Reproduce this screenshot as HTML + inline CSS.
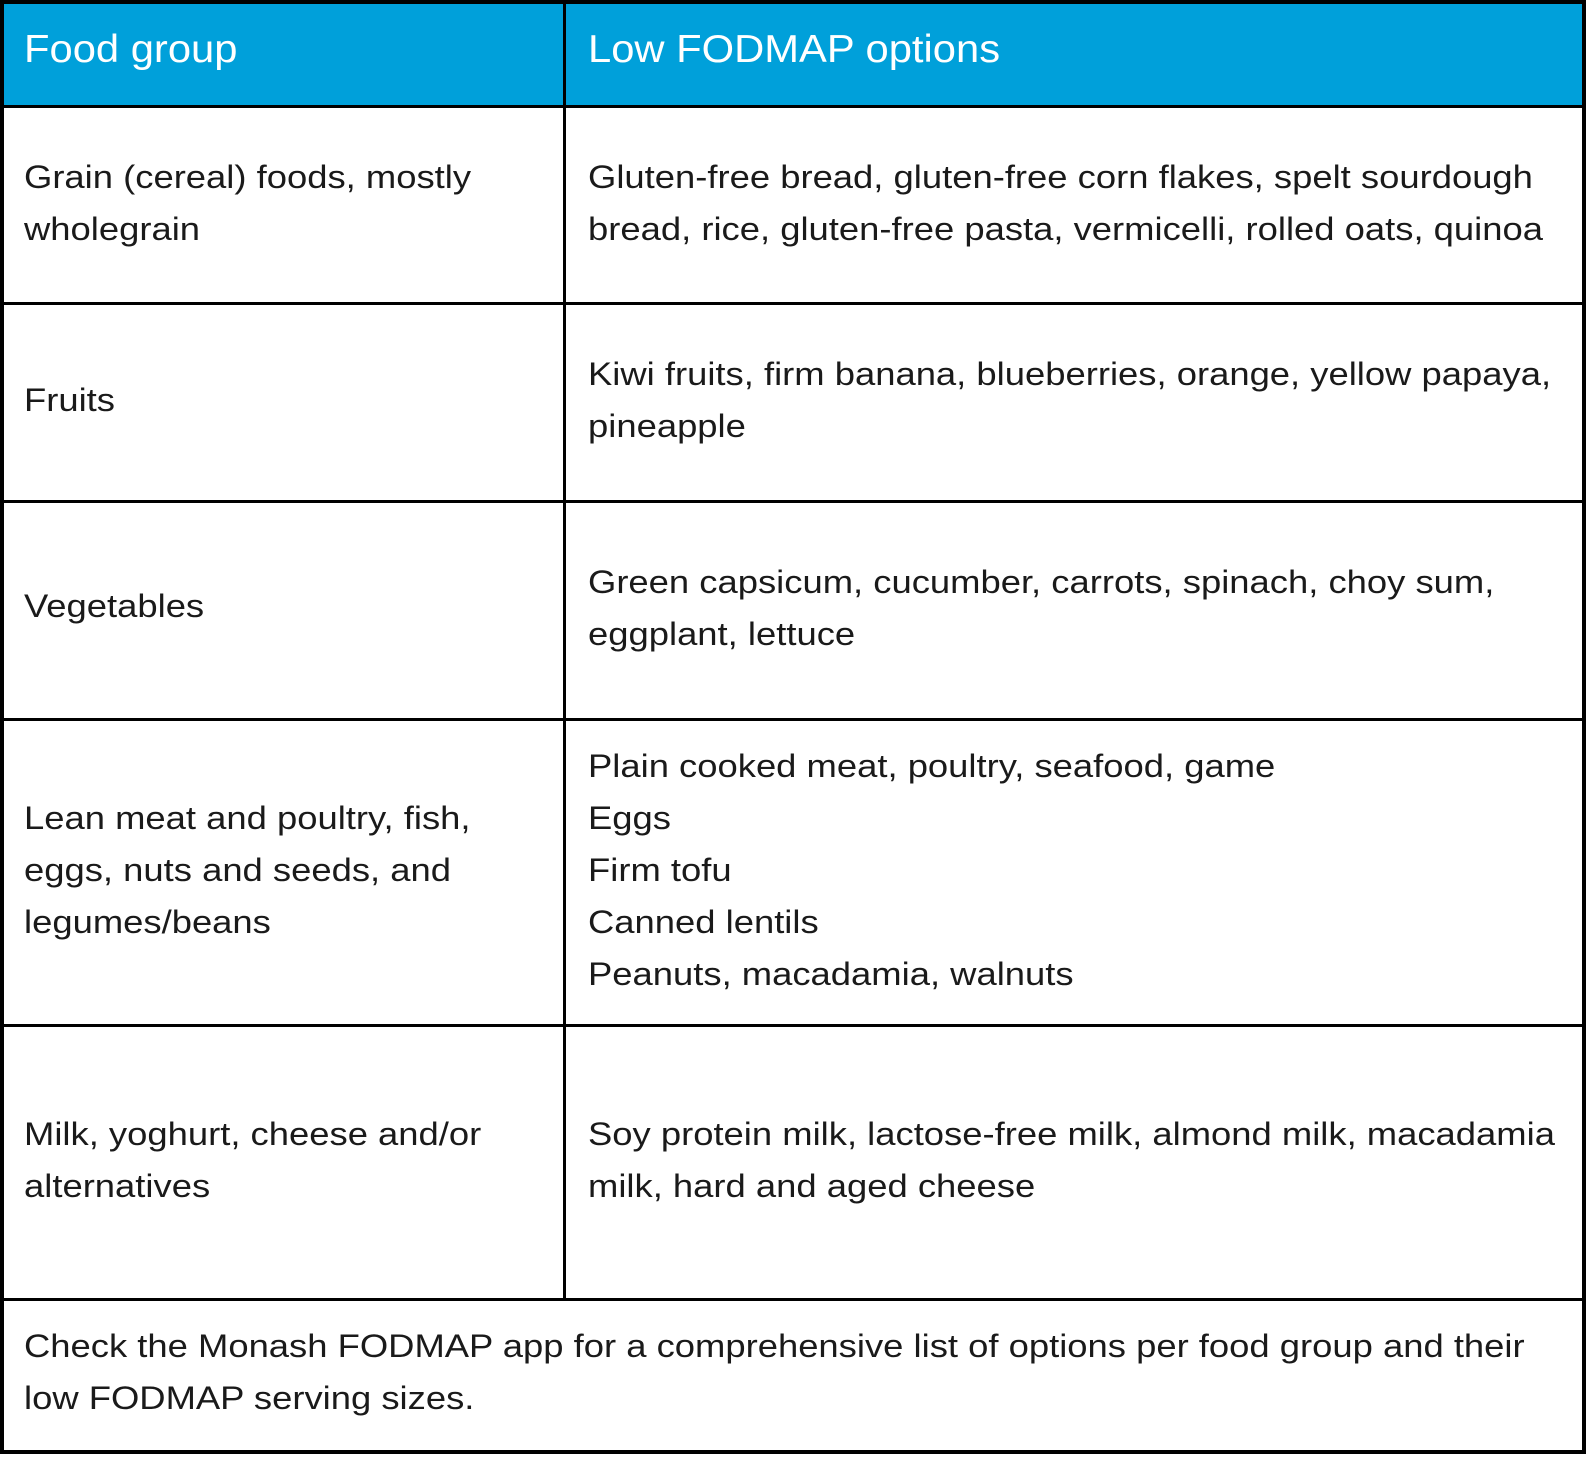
<!DOCTYPE html>
<html><head><style>
body{margin:0;width:1586px;height:1458px;background:#fff;position:relative;overflow:hidden;font-family:"Liberation Sans",sans-serif;color:#1a1a1a}
.h{position:absolute;background:#000}
.t{position:absolute;font-size:32.5px;line-height:52px;white-space:nowrap;transform:scaleX(1.12);transform-origin:0 0}
.hd{position:absolute;font-size:39px;line-height:39px;color:#fff;white-space:nowrap;transform:scaleX(1.07);transform-origin:0 0}
</style></head><body>
<div style="position:absolute;left:0;top:0;width:1586px;height:107px;background:#00a0da"></div>
<div class="h" style="left:0;top:0;width:1586px;height:4px"></div>
<div class="h" style="left:0;top:105px;width:1586px;height:3px"></div>
<div class="h" style="left:0;top:302px;width:1586px;height:3px"></div>
<div class="h" style="left:0;top:500px;width:1586px;height:3px"></div>
<div class="h" style="left:0;top:718px;width:1586px;height:3px"></div>
<div class="h" style="left:0;top:1024px;width:1586px;height:3px"></div>
<div class="h" style="left:0;top:1298px;width:1586px;height:3px"></div>
<div class="h" style="left:0;top:1450px;width:1586px;height:4px"></div>
<div class="h" style="left:0;top:0;width:4px;height:1454px"></div>
<div class="h" style="left:1582px;top:0;width:4px;height:1454px"></div>
<div class="h" style="left:563px;top:0;width:3px;height:1300px"></div>
<div class="hd" style="left:24px;top:30px">Food group</div>
<div class="hd" style="left:588px;top:30px">Low FODMAP options</div>
<div class="t" style="left:24px;top:151px">Grain (cereal) foods, mostly<br>wholegrain</div>
<div class="t" style="left:588px;top:151px">Gluten-free bread, gluten-free corn flakes, spelt sourdough<br>bread, rice, gluten-free pasta, vermicelli, rolled oats, quinoa</div>
<div class="t" style="left:24px;top:374px">Fruits</div>
<div class="t" style="left:588px;top:348px">Kiwi fruits, firm banana, blueberries, orange, yellow papaya,<br>pineapple</div>
<div class="t" style="left:24px;top:580px">Vegetables</div>
<div class="t" style="left:588px;top:556px">Green capsicum, cucumber, carrots, spinach, choy sum,<br>eggplant, lettuce</div>
<div class="t" style="left:24px;top:792px">Lean meat and poultry, fish,<br>eggs, nuts and seeds, and<br>legumes/beans</div>
<div class="t" style="left:588px;top:740px">Plain cooked meat, poultry, seafood, game<br>Eggs<br>Firm tofu<br>Canned lentils<br>Peanuts, macadamia, walnuts</div>
<div class="t" style="left:24px;top:1108px">Milk, yoghurt, cheese and/or<br>alternatives</div>
<div class="t" style="left:588px;top:1108px">Soy protein milk, lactose-free milk, almond milk, macadamia<br>milk, hard and aged cheese</div>
<div class="t" style="left:24px;top:1320px">Check the Monash FODMAP app for a comprehensive list of options per food group and their<br>low FODMAP serving sizes.</div>
</body></html>
